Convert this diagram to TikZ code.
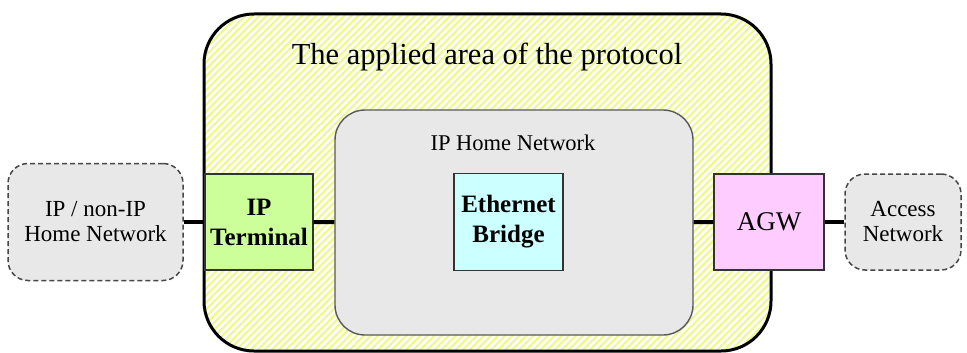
\documentclass[tikz,border=0pt]{standalone}
\usepackage{fontspec}
\setmainfont{Liberation Serif}
\usetikzlibrary{patterns.meta}
\definecolor{hatch}{RGB}{238,248,140}
\definecolor{grayfill}{RGB}{232,232,232}
\definecolor{termgreen}{RGB}{204,255,153}
\definecolor{bridgecyan}{RGB}{204,255,255}
\definecolor{agwpink}{RGB}{255,204,255}
\definecolor{dashgray}{RGB}{70,70,70}
\tikzset{
  areabox/.style={draw=black, line width=3pt, rounded corners=50pt,
    pattern={Lines[angle=45,distance=5pt,line width=2.2pt]}, pattern color=hatch},
  netbox/.style={draw=black!65, line width=1.4pt, fill=grayfill, rounded corners=30pt},
  extbox/.style={draw=dashgray, dashed, dash pattern=on 5pt off 3pt, line width=1.5pt,
    fill=grayfill, rounded corners=20pt, align=center,
    font=\fontsize{23}{25}\selectfont},
  devbox/.style={draw=black!80, line width=1.4pt, align=center,
    font=\fontsize{25}{30}\selectfont},
  link/.style={line width=4pt, black},
}
\begin{document}
\begin{tikzpicture}[x=1pt,y=-1pt]
\useasboundingbox (0,0) rectangle (967,353);
% applied area
\path[areabox] (204,14) rectangle (771,351);
\node (title) at (487,57) {\fontsize{30.5}{36}\selectfont The applied area of the protocol};
% IP home network
\node[netbox, minimum width=358pt, minimum height=225pt] (home) at (514,222.5) {};
\node (homelabel) at (513,143) {\fontsize{22.5}{26}\selectfont IP Home Network};
% devices
\node[devbox, fill=termgreen, minimum width=108pt, minimum height=96pt, font=\fontsize{25}{30}\selectfont\bfseries] (term) at (259,222) {IP\\Terminal};
\node[devbox, fill=bridgecyan, minimum width=109pt, minimum height=97pt, font=\fontsize{25}{30}\selectfont\bfseries] (bridge) at (508.5,222) {Ethernet\\Bridge};
\node[devbox, fill=agwpink, minimum width=110pt, minimum height=96pt, font=\fontsize{27}{30}\selectfont] (agw) at (769,222) {AGW};
% external networks
\node[extbox, minimum width=175pt, minimum height=117pt] (ext) at (95.5,222) {IP / non-IP\\Home Network};
\node[extbox, minimum width=116pt, minimum height=96pt] (access) at (903,222) {Access\\Network};
% links
\draw[link] (ext) -- (term);
\draw[link] (term) -- (home);
\draw[link] (home) -- (agw);
\draw[link] (agw) -- (access);
\end{tikzpicture}
\end{document}
